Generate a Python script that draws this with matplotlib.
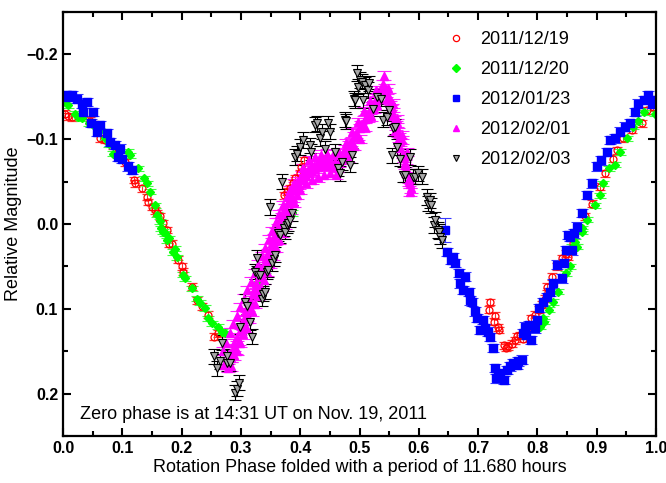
import matplotlib
matplotlib.use('Agg')
import matplotlib.pyplot as plt
from matplotlib.lines import Line2D
from matplotlib.ticker import MultipleLocator

plt.rcParams['font.family'] = ['Liberation Sans', 'DejaVu Sans']

# ── data (phase, relative magnitude, error) ──

LABELS = ['2011/12/19', '2011/12/20', '2012/01/23', '2012/02/01', '2012/02/03']

red_phase = [0.003, 0.008, 0.015, 0.045, 0.052, 0.062, 0.071, 0.085, 0.093, 0.105,
             0.119, 0.121, 0.133, 0.141, 0.144, 0.150, 0.155, 0.158, 0.164, 0.169,
             0.175, 0.178, 0.183, 0.194, 0.200, 0.203, 0.217, 0.226, 0.234, 0.245,
             0.254, 0.262,
             0.373, 0.377, 0.383, 0.388, 0.391, 0.400, 0.402, 0.406,
             0.720, 0.719, 0.728, 0.727, 0.733, 0.735, 0.743, 0.747, 0.751, 0.757,
             0.762, 0.766, 0.771, 0.776, 0.782, 0.790, 0.796, 0.802, 0.807, 0.813,
             0.816, 0.818, 0.824, 0.833, 0.841, 0.849, 0.852, 0.860, 0.870, 0.880,
             0.892, 0.906, 0.914, 0.928, 0.934, 0.945, 0.959, 0.976, 0.984, 0.995]
red_mag = [-0.130, -0.127, -0.126, -0.122, -0.118, -0.101, -0.099, -0.093, -0.085, -0.073,
           -0.052, -0.048, -0.042, -0.032, -0.026, -0.020, -0.016, -0.013, -0.009, -0.001,
           0.007, 0.023, 0.023, 0.042, 0.050, 0.056, 0.074, 0.090, 0.097, 0.107,
           0.133, 0.129,
           -0.034, -0.038, -0.042, -0.048, -0.054, -0.060, -0.067, -0.075,
           0.092, 0.101, 0.108, 0.115, 0.122, 0.125, 0.143, 0.146, 0.144, 0.141,
           0.137, 0.132, 0.131, 0.135, 0.121, 0.111, 0.107, 0.101, 0.095, 0.088,
           0.074, 0.080, 0.062, 0.050, 0.040, 0.035, 0.039, 0.022, 0.005, -0.009,
           -0.024, -0.044, -0.060, -0.077, -0.087, -0.101, -0.111, -0.119, -0.134, -0.138]
red_err = 0.004

green_phase = [0.003, 0.009, 0.020, 0.026, 0.032, 0.043, 0.051, 0.060, 0.070, 0.078,
               0.085, 0.110, 0.113, 0.127, 0.136, 0.141, 0.147, 0.155, 0.158, 0.164,
               0.166, 0.169, 0.172, 0.175, 0.178, 0.186, 0.189, 0.192, 0.203, 0.206,
               0.217, 0.226, 0.231, 0.240, 0.245, 0.251, 0.262, 0.268, 0.273,
               0.330, 0.340, 0.355, 0.370, 0.380, 0.386,
               0.804, 0.810, 0.811, 0.819, 0.827, 0.835, 0.849, 0.855, 0.858, 0.863,
               0.866, 0.875, 0.876, 0.883, 0.897, 0.906, 0.911, 0.920, 0.931, 0.939,
               0.951, 0.962, 0.970, 0.979, 0.998]
green_mag = [-0.144, -0.140, -0.130, -0.126, -0.125, -0.119, -0.117, -0.110, -0.102, -0.094,
             -0.083, -0.085, -0.081, -0.066, -0.054, -0.048, -0.038, -0.022, -0.011, -0.003,
             0.005, 0.009, 0.011, 0.019, 0.017, 0.033, 0.029, 0.039, 0.060, 0.064,
             0.076, 0.088, 0.093, 0.099, 0.111, 0.117, 0.121, 0.127, 0.129,
             0.070, 0.055, 0.030, 0.002, -0.010, -0.013,
             0.121, 0.111, 0.115, 0.101, 0.092, 0.080, 0.058, 0.050, 0.027, 0.021,
             0.027, 0.009, 0.005, -0.005, -0.022, -0.034, -0.048, -0.066, -0.070, -0.085,
             -0.101, -0.115, -0.121, -0.132, -0.130]
green_err = 0.003

blue_phase = [0.006, 0.008, 0.015, 0.023, 0.032, 0.034, 0.040, 0.048, 0.051, 0.057,
              0.062, 0.074, 0.079, 0.088, 0.093, 0.096, 0.099, 0.110, 0.116,
              0.644, 0.647, 0.655, 0.658, 0.661, 0.667, 0.678, 0.670, 0.675, 0.684,
              0.686, 0.689, 0.695, 0.698, 0.709, 0.703, 0.712, 0.717, 0.720, 0.725,
              0.729, 0.731, 0.734, 0.737, 0.743, 0.748, 0.754, 0.759, 0.765, 0.768,
              0.774, 0.776, 0.779, 0.780, 0.785, 0.790, 0.796, 0.799, 0.802, 0.810,
              0.816, 0.821, 0.827, 0.833, 0.841, 0.844, 0.849, 0.852, 0.858, 0.861,
              0.855, 0.866, 0.875, 0.883, 0.892, 0.900, 0.908, 0.917, 0.922, 0.931,
              0.939, 0.948, 0.956, 0.965, 0.970, 0.979, 0.987, 0.993, 0.996]
blue_mag = [-0.152, -0.150, -0.152, -0.148, -0.142, -0.132, -0.144, -0.119, -0.132, -0.109,
            -0.117, -0.107, -0.097, -0.093, -0.079, -0.089, -0.077, -0.068, -0.064,
            0.007, 0.033, 0.042, 0.039, 0.046, 0.058, 0.062, 0.070, 0.078, 0.080,
            0.090, 0.092, 0.103, 0.111, 0.113, 0.125, 0.123, 0.127, 0.133, 0.146,
            0.170, 0.182, 0.176, 0.182, 0.184, 0.172, 0.168, 0.164, 0.166, 0.162,
            0.160, 0.129, 0.121, 0.131, 0.119, 0.137, 0.123, 0.113, 0.099, 0.092,
            0.086, 0.080, 0.070, 0.048, 0.064, 0.046, 0.031, 0.013, 0.031, 0.011,
            0.015, 0.003, -0.013, -0.034, -0.048, -0.068, -0.075, -0.085, -0.099, -0.101,
            -0.109, -0.115, -0.119, -0.132, -0.142, -0.146, -0.152, -0.142, -0.146]
blue_err = [0.005] * 19 + [0.014] + [0.005] * 68

mag_phase = [0.272, 0.276, 0.279, 0.281, 0.284, 0.286, 0.289, 0.291, 0.293, 0.296,
             0.298, 0.300, 0.303, 0.305, 0.307, 0.310, 0.312, 0.315, 0.317, 0.320,
             0.322, 0.325, 0.327, 0.330, 0.332, 0.335, 0.337, 0.340, 0.342, 0.345,
             0.347, 0.350, 0.352, 0.355, 0.357, 0.360, 0.362, 0.365, 0.367, 0.370,
             0.372, 0.375, 0.377, 0.380, 0.382, 0.385, 0.388, 0.390,
             0.392, 0.395, 0.398, 0.400, 0.403, 0.405, 0.408, 0.410, 0.413, 0.415,
             0.418, 0.420, 0.423, 0.425, 0.428, 0.430, 0.433, 0.435, 0.438, 0.440,
             0.443, 0.445, 0.448, 0.450, 0.453, 0.455, 0.458, 0.460, 0.463, 0.465,
             0.468, 0.470,
             0.473, 0.476, 0.479, 0.482, 0.485, 0.488, 0.491, 0.494, 0.497, 0.500,
             0.503, 0.506, 0.509, 0.512, 0.515, 0.518, 0.521, 0.524, 0.527, 0.530,
             0.533, 0.536, 0.539, 0.541,
             0.543, 0.545, 0.547, 0.549, 0.551, 0.553, 0.555, 0.557, 0.559, 0.561,
             0.563, 0.565, 0.567, 0.569, 0.571, 0.573, 0.575, 0.577, 0.579, 0.581,
             0.583, 0.585, 0.586, 0.585,
             # right (faint) edge of the rising band
             0.283, 0.288, 0.294, 0.299, 0.304, 0.309, 0.314, 0.319, 0.324, 0.329,
             0.334, 0.339, 0.344, 0.349, 0.354, 0.359, 0.364, 0.369, 0.374, 0.379,
             0.384, 0.389, 0.394,
             # left (bright) edge of the rising band
             0.270, 0.275, 0.281, 0.287, 0.293, 0.299, 0.305, 0.311, 0.317, 0.323,
             0.329, 0.335, 0.341, 0.347, 0.353, 0.359, 0.365, 0.371, 0.377, 0.383,
             0.389,
             # plateau spread
             0.400, 0.410, 0.420, 0.430, 0.440, 0.450, 0.460, 0.405, 0.415, 0.425,
             0.435, 0.445, 0.455, 0.465,
             # peak branches spread
             0.480, 0.490, 0.500, 0.510, 0.520, 0.530, 0.478, 0.488, 0.498, 0.508,
             0.518, 0.528,
             0.548, 0.556, 0.564, 0.572, 0.580, 0.552, 0.560, 0.568, 0.576, 0.583]
mag_mag = [0.166, 0.160, 0.170, 0.152, 0.158, 0.147, 0.140, 0.148, 0.133, 0.138,
           0.126, 0.119, 0.124, 0.112, 0.104, 0.109, 0.097, 0.090, 0.094, 0.082,
           0.078, 0.070, 0.074, 0.063, 0.058, 0.052, 0.056, 0.045, 0.040, 0.034,
           0.038, 0.027, 0.022, 0.017, 0.020, 0.010, 0.005, -0.002, 0.002, -0.008,
           -0.013, -0.019, -0.015, -0.025, -0.030, -0.034, -0.031, -0.040,
           -0.045, -0.050, -0.046, -0.054, -0.058, -0.052, -0.061, -0.057, -0.064, -0.060,
           -0.067, -0.063, -0.069, -0.065, -0.071, -0.067, -0.073, -0.068, -0.074, -0.070,
           -0.076, -0.072, -0.069, -0.075, -0.071, -0.067, -0.073, -0.070, -0.066, -0.072,
           -0.076, -0.080,
           -0.084, -0.088, -0.085, -0.093, -0.097, -0.094, -0.103, -0.107, -0.104, -0.113,
           -0.117, -0.114, -0.124, -0.128, -0.125, -0.135, -0.139, -0.136, -0.146, -0.150,
           -0.147, -0.158, -0.165, -0.175,
           -0.160, -0.155, -0.148, -0.150, -0.140, -0.135, -0.137, -0.127, -0.122, -0.116,
           -0.119, -0.108, -0.102, -0.097, -0.099, -0.083, -0.078, -0.072, -0.066, -0.060,
           -0.053, -0.047, -0.042, -0.038,
           0.168, 0.155, 0.150, 0.140, 0.130, 0.122, 0.112, 0.103, 0.094, 0.085,
           0.075, 0.066, 0.056, 0.047, 0.038, 0.028, 0.019, 0.010, 0.001, -0.008,
           -0.017, -0.025, -0.034,
           0.150, 0.140, 0.128, 0.118, 0.108, 0.098, 0.088, 0.078, 0.068, 0.058,
           0.048, 0.038, 0.028, 0.018, 0.008, -0.002, -0.012, -0.022, -0.032, -0.040,
           -0.048,
           -0.040, -0.048, -0.052, -0.055, -0.058, -0.060, -0.058, -0.066, -0.075, -0.079,
           -0.082, -0.083, -0.082, -0.085,
           -0.078, -0.092, -0.100, -0.115, -0.127, -0.140, -0.095, -0.108, -0.120, -0.133,
           -0.145, -0.158,
           -0.160, -0.142, -0.124, -0.105, -0.085, -0.130, -0.110, -0.090, -0.070, -0.050]
mag_err = 0.005

black_phase = [0.254, 0.259, 0.265, 0.268, 0.276, 0.277, 0.282, 0.290, 0.293, 0.296,
               0.299, 0.307, 0.310, 0.315, 0.318, 0.324, 0.327, 0.329, 0.332, 0.335,
               0.338, 0.341, 0.344, 0.345, 0.352, 0.355, 0.358, 0.363, 0.366, 0.372,
               0.374, 0.377, 0.380, 0.383, 0.386, 0.349, 0.369, 0.391, 0.395, 0.400,
               0.405, 0.417, 0.419, 0.425, 0.428, 0.433, 0.436, 0.442, 0.447, 0.450,
               0.459, 0.464, 0.467, 0.470, 0.476, 0.478, 0.484, 0.487, 0.490, 0.492,
               0.495, 0.498, 0.501, 0.504, 0.506, 0.509, 0.515, 0.516, 0.523, 0.529,
               0.537, 0.540, 0.546, 0.549, 0.554, 0.557, 0.560, 0.563, 0.568, 0.574,
               0.577, 0.585, 0.591, 0.594, 0.599, 0.605, 0.613, 0.616, 0.619, 0.620,
               0.625, 0.627, 0.633, 0.634, 0.636, 0.639]
black_mag = [0.156, 0.170, 0.162, 0.140, 0.156, 0.164, 0.164, 0.199, 0.194, 0.187,
             0.121, 0.092, 0.097, 0.116, 0.133, 0.056, 0.040, 0.060, 0.060, 0.088,
             0.082, 0.080, 0.056, 0.054, 0.046, 0.041, 0.036, 0.011, 0.013, 0.005,
             0.009, 0.001, -0.001, -0.005, -0.013, -0.020, -0.050, -0.079, -0.083, -0.091,
             -0.099, -0.093, -0.085, -0.117, -0.119, -0.101, -0.109, -0.089, -0.119, -0.109,
             -0.085, -0.066, -0.060, -0.073, -0.123, -0.121, -0.070, -0.081, -0.148, -0.146,
             -0.178, -0.162, -0.170, -0.168, -0.146, -0.164, -0.158, -0.166, -0.136, -0.150,
             -0.148, -0.123, -0.126, -0.134, -0.081, -0.113, -0.115, -0.091, -0.077, -0.058,
             -0.058, -0.079, -0.056, -0.056, -0.060, -0.056, -0.032, -0.024, -0.028, -0.022,
             0.001, -0.005, 0.007, 0.009, 0.015, 0.019]
black_err = 0.009

ANNOT = 'Zero phase is at 14:31 UT on Nov. 19, 2011'

# ── plot ─────────────────────────────────────────────────────

fig = plt.figure(figsize=(6.66, 4.83), dpi=100)
ax = fig.add_axes([0.0946, 0.0973, 0.8904, 0.8777])

series = [
    (red_phase, red_mag, red_err,
     dict(fmt='o', mfc='none', mec='#ff0000', ms=5, mew=0.9, ecolor='#ff3030'), 3.5),
    (green_phase, green_mag, green_err,
     dict(fmt='D', mfc='#00ff00', mec='#00ff00', ms=4.5, ecolor='#40ff40'), 4),
    (blue_phase, blue_mag, blue_err,
     dict(fmt='s', mfc='#0000ff', mec='#0000ff', ms=5.2, ecolor='#3838ff'), 4),
    (mag_phase, mag_mag, mag_err,
     dict(fmt='^', mfc='#ff00ff', mec='#ff00ff', ms=5.5, ecolor='#ff20ff'), 5),
    (black_phase, black_mag, black_err,
     dict(fmt='v', mfc='#a8a8a8', mec='black', ms=5.5, mew=0.8, ecolor='black'), 4),
]

for ph, mg, er, style, cap in series:
    ax.errorbar(ph, mg, yerr=er, capsize=cap, elinewidth=0.8, capthick=0.8,
                linestyle='none', **style)

ax.set_xlim(0, 1)
ax.set_ylim(0.25, -0.25)
ax.xaxis.set_major_locator(MultipleLocator(0.1))
ax.xaxis.set_minor_locator(MultipleLocator(0.05))
ax.yaxis.set_major_locator(MultipleLocator(0.1))
ax.yaxis.set_minor_locator(MultipleLocator(0.05))
ax.tick_params(which='both', direction='in', top=True, right=True, width=1.5)
ax.tick_params(which='major', length=6, labelsize=11.5)
ax.tick_params(which='minor', length=3.5)
for lbl in ax.get_xticklabels() + ax.get_yticklabels():
    lbl.set_fontweight('bold')
for sp in ax.spines.values():
    sp.set_linewidth(1.6)

ax.set_xlabel('Rotation Phase folded with a period of 11.680 hours', fontsize=13, labelpad=2)
ax.set_ylabel('Relative Magnitude', fontsize=13, labelpad=3)
ax.text(0.029, 0.05, ANNOT, transform=ax.transAxes, fontsize=13, va='center')

handles = [
    Line2D([], [], ls='none', marker='o', mfc='none', mec='#ff0000', ms=4.5, mew=0.9),
    Line2D([], [], ls='none', marker='D', mfc='#00ff00', mec='#00ff00', ms=4.5),
    Line2D([], [], ls='none', marker='s', mfc='#0000ff', mec='#0000ff', ms=4.5),
    Line2D([], [], ls='none', marker='^', mfc='#ff00ff', mec='#ff00ff', ms=5),
    Line2D([], [], ls='none', marker='v', mfc='#a8a8a8', mec='black', ms=5, mew=0.8),
]
ax.legend(handles, LABELS, loc='upper left', bbox_to_anchor=(0.648, 0.955),
          frameon=False, fontsize=13, handlelength=1.0, handletextpad=0.8,
          labelspacing=0.72, borderpad=0, borderaxespad=0)

fig.savefig('out.png', dpi=100)
